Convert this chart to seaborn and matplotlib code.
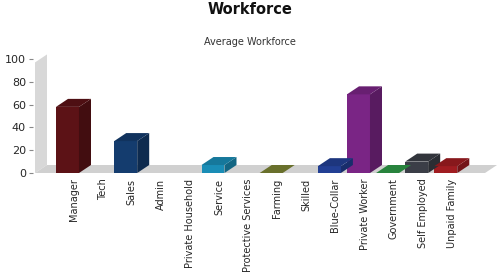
import matplotlib
matplotlib.use("Agg")
import matplotlib.pyplot as plt
import matplotlib.transforms as mtransforms
from matplotlib.patches import Polygon
import seaborn as sns
import pandas as pd
import numpy as np

categories = ["Manager", "Tech", "Sales", "Admin", "Private Household", "Service",
              "Protective Services", "Farming", "Skilled", "Blue-Collar",
              "Private Worker", "Government", "Self Employed", "Unpaid Family"]
values = [58, 0, 28, 0, 0, 7, 0, 0, 0, 6, 69, 0, 10, 6]
colors = ["#5c1216", "#cfcfcf", "#143c6e", "#cfcfcf", "#cfcfcf", "#1a8db6",
          "#cfcfcf", "#7c8434", "#cfcfcf", "#223f94", "#7a2585", "#2f9a48",
          "#3b3e47", "#a01c21"]
y_ticks = [0, 20, 40, 60, 80, 100]

sns.set_theme(style="white")
plt.rcParams['font.family'] = ['DejaVu Sans']

W, H = 500, 280
fig = plt.figure(figsize=(W / 100, H / 100), dpi=100)
# axes: y=0 at 173px, y=100 at 59px; x from 33px to 490px
ax = fig.add_axes([33 / W, (H - 173) / H, 457 / W, (173 - 59) / H])

df = pd.DataFrame({"cat": categories, "val": values})
sns.barplot(data=df, x="cat", y="val", hue="cat", palette=colors, legend=False,
            width=0.79, saturation=1, ax=ax, zorder=5)

px_per_x = 29.1
x0_px = 67.5
ax.set_xlim((33 - x0_px) / px_per_x, (490 - x0_px) / px_per_x)
ax.set_ylim(0, 100)
px_per_y = 114 / 100.0
dx = 12 / px_per_x
dy = 8 / px_per_y


def shade(c, f):
    r, g, b = matplotlib.colors.to_rgb(c)
    return (r * f, g * f, b * f)


# wall and floor
wall_x = (35 - x0_px) / px_per_x
floor_right = (485 - x0_px) / px_per_x
wall_top = 97
wall = Polygon([(wall_x, 0), (wall_x + dx, dy), (wall_x + dx, wall_top + dy), (wall_x, wall_top)],
               closed=True, facecolor="#d8d8d8", edgecolor="none", zorder=1, clip_on=False)
ax.add_patch(wall)
floor = Polygon([(wall_x, 0), (wall_x + dx, dy), (floor_right + dx, dy), (floor_right, 0)],
                closed=True, facecolor="#d0d0d0", edgecolor="none", zorder=2, clip_on=False)
ax.add_patch(floor)

for p, c in zip(list(ax.patches)[:len(categories)], colors):
    x = p.get_x()
    w = p.get_width()
    h = p.get_height()
    p.set_edgecolor("none")
    if c == "#cfcfcf":
        p.set_visible(False)
        continue
    top = Polygon([(x, h), (x + dx, h + dy), (x + w + dx, h + dy), (x + w, h)],
                  closed=True, facecolor=shade(c, 0.85), edgecolor="none", zorder=6, clip_on=False)
    side = Polygon([(x + w, 0), (x + w + dx, dy), (x + w + dx, h + dy), (x + w, h)],
                   closed=True, facecolor=shade(c, 0.72), edgecolor="none", zorder=6, clip_on=False)
    ax.add_patch(side)
    ax.add_patch(top)

for s in ["top", "right", "bottom", "left"]:
    ax.spines[s].set_visible(False)
ax.set_yticks(y_ticks)
ax.tick_params(axis="y", left=True, length=3, width=0.8, color="#888888", labelsize=8, pad=2)
ax.tick_params(axis="x", length=0, labelsize=7, pad=4)
ax.set_xticks(range(len(categories)))
ax.set_xticklabels(categories, rotation=90, va="top", ha="center")
offset = mtransforms.ScaledTranslation(0.06, 0, fig.dpi_scale_trans)
for lbl in ax.get_xticklabels():
    lbl.set_transform(lbl.get_transform() + offset)
ax.set_xlabel("")
ax.set_ylabel("")
ax.grid(False)
ax.set_facecolor("none")

fig.text(0.5, 1 - 9 / H, "Workforce", ha="center", va="center", fontsize=10.5, fontweight="bold", color="#111111")
fig.text(0.5, 1 - 42 / H, "Average Workforce", ha="center", va="center", fontsize=7, color="#333333")

fig.savefig("out.png", dpi=100)
